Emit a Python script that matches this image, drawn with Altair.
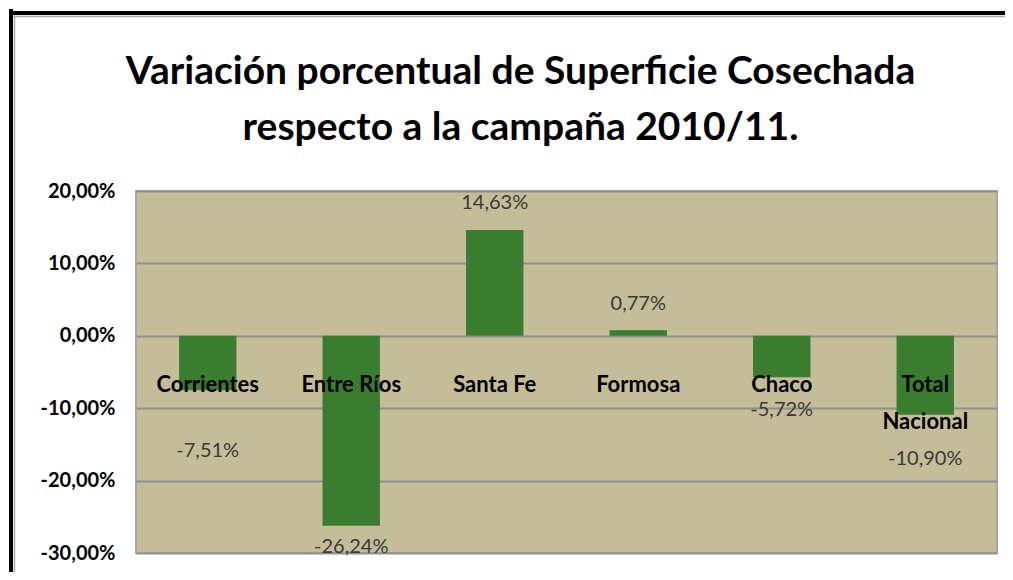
import altair as alt
import pandas as pd

# ---- data ----
categories = ["Corrientes", "Entre Ríos", "Santa Fe", "Formosa", "Chaco", "Total\nNacional"]
values = [-7.51, -26.24, 14.63, 0.77, -5.72, -10.90]
y_ticks = [-30, -20, -10, 0, 10, 20]
title_lines = ["Variación porcentual de Superficie Cosechada", "respecto a la campaña 2010/11."]

# ---- styling ----
FONT = "Lato"
label_dy = [61, 21, -27, -26, 33, 44]  # pixel offsets of the value labels (Excel placement)
W, H = 861, 362

df = pd.DataFrame({"cat": categories, "value": values})
df["label"] = [f"{v:.2f}".replace(".", ",") + "%" for v in values]

x_enc = alt.X("cat:N", sort=categories, axis=None,
              scale=alt.Scale(paddingInner=0.6, paddingOuter=0.3))
y_scale = alt.Scale(domain=[-30, 20], nice=False, zero=False)

base = alt.Chart(df)

bars = base.mark_bar(color="#3B7D2E").encode(
    x=x_enc,
    y=alt.Y("value:Q", scale=y_scale,
            axis=alt.Axis(values=y_ticks, title=None, domain=False, ticks=False, tickSize=0,
                          labelPadding=21, labelFont=FONT, labelFontSize=20,
                          labelFontWeight="bold", labelColor="black",
                          labelExpr="replace(replace(format(datum.value, '.2f'), '.', ','), '\u2212', '-') + '%'",
                          grid=True, gridColor="#8F8F8F", gridWidth=2)),
    y2=alt.datum(0),
)

value_labels = [
    base.transform_filter(alt.datum.cat == c).mark_text(
        font=FONT, fontSize=20, color="#3A3A3A", baseline="middle", dy=d
    ).encode(x=x_enc, y=alt.Y("value:Q", scale=y_scale), text="label:N")
    for c, d in zip(categories, label_dy)
]

cat_labels = base.mark_text(font=FONT, fontSize=22, fontWeight="bold", color="black",
                            baseline="alphabetic", lineBreak="\n", lineHeight=37).encode(
    x=x_enc,
    y=alt.value(201),
    text="cat:N",
)

frame_df = pd.DataFrame({"k": [0]})
frame_left = alt.Chart(frame_df).mark_rule(color="black", strokeWidth=4).encode(
    x=alt.value(-125), y=alt.value(-182), y2=alt.value(H + 40))
frame_top = alt.Chart(frame_df).mark_rule(color="black", strokeWidth=4).encode(
    x=alt.value(-127), x2=alt.value(W + 40), y=alt.value(-178))
inner_left = alt.Chart(frame_df).mark_rule(color="#A8A8A8", strokeWidth=1.5).encode(
    x=alt.value(-121.5), y=alt.value(-176), y2=alt.value(H + 40))
inner_top = alt.Chart(frame_df).mark_rule(color="#A8A8A8", strokeWidth=1.5).encode(
    x=alt.value(-122), x2=alt.value(W + 40), y=alt.value(-174.5))

chart = alt.layer(bars, *value_labels, cat_labels, frame_left, frame_top, inner_left, inner_top).properties(
    width=W, height=H,
    background="white",
    title=alt.TitleParams(title_lines, font=FONT, fontSize=39, fontWeight="bold", color="black",
                          anchor="middle", frame="group", dx=-46, offset=-141, lineHeight=56),
    autosize=alt.AutoSizeParams(type="none"),
    padding={"left": 128, "top": 183, "right": 8, "bottom": 19},
).configure_view(fill="#C4BD97", stroke="#A6A6A6", strokeWidth=2)

chart.save("out.html", embed_options={"renderer": "svg", "actions": False})
